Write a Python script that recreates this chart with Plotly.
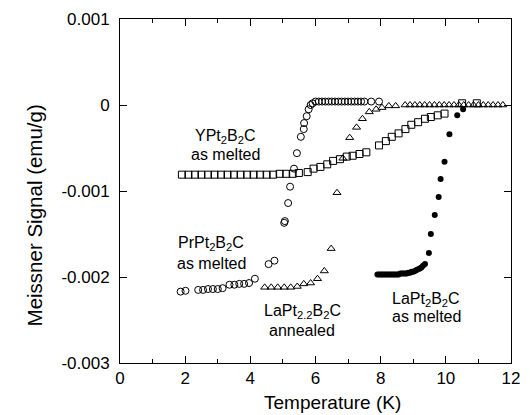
import plotly.graph_objects as go

# ---------------- data ----------------
# YPt2B2C as melted (open squares)
ypt_x = [1.9, 2.1, 2.3, 2.5, 2.7, 2.9, 3.1, 3.3, 3.5, 3.7, 3.9, 4.1, 4.3, 4.5, 4.7, 4.9, 5.1, 5.3,
         5.49, 5.76, 5.94, 6.15, 6.36, 6.54, 6.75, 6.96, 7.14, 7.35, 7.56,
         7.95, 8.16, 8.34, 8.55, 8.76, 8.94, 9.15, 9.36, 9.54, 9.75, 9.96, 10.5, 10.95]
ypt_y = [-0.00081, -0.00081, -0.00081, -0.00081, -0.00081, -0.00081, -0.00081, -0.00081, -0.00081,
         -0.00081, -0.00081, -0.00081, -0.00081, -0.00081, -0.00081, -0.00080, -0.00080, -0.00080,
         -0.00079, -0.00078, -0.00074, -0.00072, -0.00069, -0.00065, -0.00063, -0.00060, -0.00059,
         -0.00057, -0.00055, -0.00047, -0.00042, -0.00037, -0.00033, -0.00028, -0.00023, -0.00020,
         -0.00016, -0.00014, -0.00012, -0.00010, 0.00002, 0.00002]

# PrPt2B2C as melted (open circles)
prpt_x = [1.86, 2.01, 2.40, 2.55, 2.70, 2.85, 3.00, 3.15, 3.36, 3.51, 3.66, 3.81, 3.96, 4.14,
          4.56, 4.74, 5.04, 5.06, 5.16, 5.22, 5.34, 5.43, 5.55, 5.64, 5.65, 5.73, 5.79, 5.85, 5.91,
          6.0, 6.1, 6.2, 6.3, 6.4, 6.5, 6.6, 6.7, 6.8, 6.9, 7.0, 7.1, 7.2, 7.3, 7.4, 7.5, 7.71, 7.95]
prpt_y = [-0.00217, -0.00216, -0.00215, -0.00215, -0.00214, -0.00214, -0.00214, -0.00213, -0.00209,
          -0.00209, -0.00208, -0.00208, -0.00207, -0.00202, -0.00185, -0.00181, -0.00137, -0.00135,
          -0.00114, -0.00095, -0.00074, -0.00056, -0.00037, -0.00028, -0.00021, -0.00013, -0.00005,
          0.0, 0.00002,
          0.00004, 0.00004, 0.00004, 0.00004, 0.00004, 0.00004, 0.00004, 0.00004, 0.00004, 0.00004,
          0.00004, 0.00004, 0.00004, 0.00004, 0.00004, 0.00004, 0.00004, 0.00004]

# LaPt2.2B2C annealed (open triangles)
lapt22_x = [4.44, 4.64, 4.84, 5.04, 5.24, 5.44, 5.64, 5.85, 6.06, 6.27, 6.48, 6.66, 6.84, 7.05,
            7.26, 7.44, 7.65, 7.86, 8.04, 8.25, 8.46,
            8.75, 8.9, 9.05, 9.2, 9.35, 9.5, 9.65, 9.8, 9.95, 10.1, 10.25, 10.4, 10.55, 10.7,
            10.85, 11.0, 11.15, 11.3, 11.45, 11.6, 11.75]
lapt22_y = [-0.00212, -0.00212, -0.00212, -0.00212, -0.00212, -0.00211, -0.00208, -0.00207,
            -0.00202, -0.00193, -0.00167, -0.00102, -0.00062, -0.00038, -0.00026, -0.00016,
            -0.00008, -0.00005, -0.00003, -0.00001, -0.00001,
            0.0, 0.0, 0.0, 0.0, 0.0, 0.0, 0.0, 0.0, 0.0, 0.0, 0.0, 0.0, 0.0, 0.0,
            0.0, 0.0, 0.0, 0.0, 0.0, 0.0, 0.0]

# LaPt2B2C as melted (filled circles)
lapt_x = [7.9, 7.95, 8.0, 8.05, 8.1, 8.15, 8.2, 8.25, 8.3, 8.35, 8.4, 8.45, 8.5, 8.55, 8.6, 8.65,
          8.7, 8.75, 8.8, 8.85, 8.9, 8.95, 9.0, 9.05, 9.1, 9.15, 9.2, 9.25, 9.3,
          9.36, 9.48, 9.54, 9.66, 9.78, 9.84, 9.96, 10.11, 10.35, 10.53]
lapt_y = [-0.00197, -0.00197, -0.00197, -0.00197, -0.00197, -0.00197, -0.00197, -0.00197,
          -0.00197, -0.00197, -0.00197, -0.00197, -0.00197, -0.00197, -0.00196, -0.00196,
          -0.00196, -0.00196, -0.00196, -0.00195, -0.00195, -0.00194, -0.00194, -0.00193,
          -0.00192, -0.00191, -0.00190, -0.00189, -0.00187,
          -0.00185, -0.00172, -0.00150, -0.00128, -0.00107, -0.00086, -0.00066, -0.00034,
          -0.00012, -0.00005]

x_ticks = [0, 2, 4, 6, 8, 10, 12]
x_ticktext = ["0", "2", "4", "6", "8", "10", "12"]
y_ticks = [0.001, 0.0, -0.001, -0.002, -0.003]
y_ticktext = ["0.001", "0", "-0.001", "-0.002", "-0.003"]

x_title = "Temperature (K)"
y_title = "Meissner Signal (emu/g)"

# labels: (text line 1, text line 2, x, y_line1, y_line2)
labels = [
    ("YPt<sub>2</sub>B<sub>2</sub>C", "as melted", 3.25, -0.000365, -0.000575),
    ("PrPt<sub>2</sub>B<sub>2</sub>C", "as melted", 2.8, -0.00161, -0.00184),
    ("LaPt<sub>2.2</sub>B<sub>2</sub>C", "annealed", 5.6, -0.00240, -0.00262),
    ("LaPt<sub>2</sub>B<sub>2</sub>C", "as melted", 9.4, -0.00226, -0.00246),
]

FONT = "Liberation Sans, Arial, Helvetica, sans-serif"

fig = go.Figure()
fig.add_trace(go.Scatter(x=ypt_x, y=ypt_y, mode="markers", name="YPt2B2C",
                         marker=dict(symbol="square-open", size=7, color="black", line=dict(width=1))))
fig.add_trace(go.Scatter(x=prpt_x, y=prpt_y, mode="markers", name="PrPt2B2C",
                         marker=dict(symbol="circle-open", size=7, color="black", line=dict(width=1))))
fig.add_trace(go.Scatter(x=lapt22_x, y=lapt22_y, mode="markers", name="LaPt2.2B2C",
                         marker=dict(symbol="triangle-up-open", size=7, color="black", line=dict(width=1))))
fig.add_trace(go.Scatter(x=lapt_x, y=lapt_y, mode="markers", name="LaPt2B2C",
                         marker=dict(symbol="circle", size=6, color="black")))

for l1, l2, lx, ly1, ly2 in labels:
    fig.add_annotation(x=lx, y=ly1, text=l1, showarrow=False, xanchor="center", yanchor="middle",
                       font=dict(family=FONT, size=16, color="black"))
    fig.add_annotation(x=lx, y=ly2, text=l2, showarrow=False, xanchor="center", yanchor="middle",
                       font=dict(family=FONT, size=16, color="black"))

# axis titles placed as paper annotations to match reference position
fig.add_annotation(xref="paper", yref="paper", x=(337 - 120) / 400, y=(415 - 403 - 52) / 345,
                   text=x_title, showarrow=False, xanchor="center", yanchor="middle",
                   font=dict(family=FONT, size=19, color="black"))
fig.add_annotation(xref="paper", yref="paper", x=(32 - 120) / 400, y=(363 - 215) / 345,
                   text=y_title, showarrow=False, xanchor="center", yanchor="middle", textangle=-90,
                   font=dict(family=FONT, size=20.5, color="black"))

fig.update_layout(
    width=530, height=415,
    margin=dict(l=120, r=10, t=18, b=52),
    paper_bgcolor="white", plot_bgcolor="white",
    showlegend=False,
    font=dict(family=FONT, color="black"),
    xaxis=dict(range=[0, 12], tickvals=x_ticks, ticktext=x_ticktext,
               ticks="inside", ticklen=7, tickwidth=1, tickcolor="black",
               minor=dict(dtick=1, ticks="inside", ticklen=4, tickcolor="black", tickwidth=1, showgrid=False),
               showline=True, linecolor="black", linewidth=1, mirror="ticks",
               showgrid=False, zeroline=False,
               tickfont=dict(family=FONT, size=17)),
    yaxis=dict(range=[-0.003, 0.001], tickvals=y_ticks, ticktext=y_ticktext,
               ticks="inside", ticklen=7, tickwidth=1, tickcolor="black",
               showline=True, linecolor="black", linewidth=1, mirror="ticks",
               showgrid=False, zeroline=False,
               tickfont=dict(family=FONT, size=17), ticklabelstandoff=6),
)

fig.write_html("out.html")
